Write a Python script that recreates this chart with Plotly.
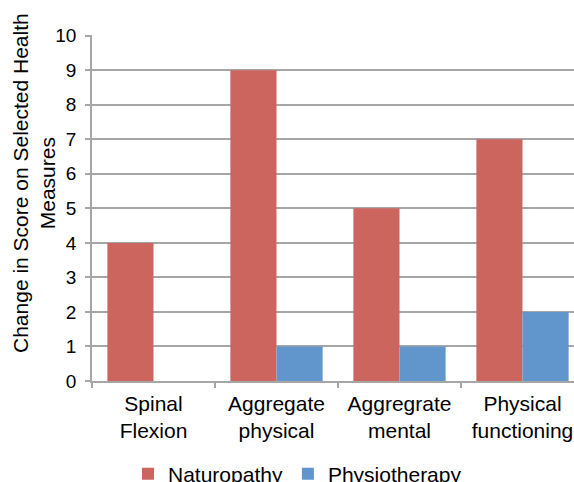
import plotly.graph_objects as go

categories = ["Spinal<br>Flexion", "Aggregate<br>physical", "Aggregrate<br>mental", "Physical<br>functioning"]
naturopathy = [4, 9, 5, 7]
physiotherapy = [0, 1, 1, 2]
y_ticks = list(range(0, 11))

RED = "#CD655F"
BLUE = "#6096CB"
GRID = "#A6A6A6"
FONT = "Liberation Sans, Arial, Helvetica, sans-serif"

fig = go.Figure()
fig.add_trace(go.Bar(name="Naturopathy", x=categories, y=naturopathy, marker_color=RED, marker_line_width=0))
fig.add_trace(go.Bar(name="Physiotherapy", x=categories, y=physiotherapy, marker_color=BLUE, marker_line_width=0))

W, H = 574, 482
L, R, T, B = 92, 0, 35, 101
cat_px = 123.0
span = (W - L - R) / cat_px

fig.update_layout(
    width=W, height=H,
    margin=dict(l=L, r=R, t=T, b=B, pad=0),
    paper_bgcolor="white", plot_bgcolor="white",
    barmode="group", bargap=0.25, bargroupgap=0,
    font=dict(family=FONT, color="#000000", size=21),
    showlegend=True,
    legend=dict(orientation="h", xref="container", yref="container",
                x=128 / W, xanchor="left", y=(H - 474) / H, yanchor="middle",
                font=dict(size=21, family=FONT, color="#000000"),
                itemwidth=30, traceorder="normal", bgcolor="rgba(0,0,0,0)"),
    xaxis=dict(type="category", range=[-0.5, -0.5 + span], tickson="boundaries",
               ticks="outside", ticklen=5, tickcolor=GRID, tickwidth=1.5,
               showline=True, linecolor=GRID, linewidth=1.5, ticklabelstandoff=3,
               showgrid=False, tickfont=dict(size=21, family=FONT, color="#000000")),
    yaxis=dict(range=[0, 10.02], tickvals=y_ticks, ticktext=[str(v) for v in y_ticks],
               ticks="outside", ticklen=5, tickcolor=GRID, tickwidth=1.5,
               showline=True, linecolor=GRID, linewidth=1.5,
               showgrid=True, gridcolor=GRID, gridwidth=1.5, zeroline=False,
               tickfont=dict(size=19, family=FONT, color="#000000"), ticklabelstandoff=5),
)

fig.add_annotation(
    text="Change in Score on Selected Health<br>Measures",
    xref="paper", yref="paper", x=(34 - L) / (W - L - R), y=(H - B - 183) / (H - T - B),
    xanchor="center", yanchor="middle", textangle=-90, showarrow=False,
    font=dict(size=21, family=FONT, color="#000000"),
)

fig.write_html("out.html", config={"displayModeBar": False},
               post_script="document.body.style.margin='0px';document.body.style.overflow='hidden';")
